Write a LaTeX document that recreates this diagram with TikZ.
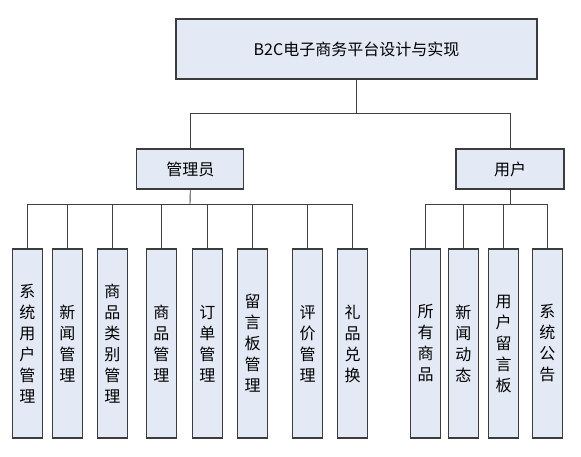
\documentclass[tikz,border=0pt]{standalone}
\usepackage{fontspec}
\newfontfamily\cjk{Noto Sans CJK SC}
\definecolor{boxfill}{RGB}{227,234,245}
\definecolor{boxline}{RGB}{60,60,60}
\begin{document}
\begin{tikzpicture}[x=1pt,y=-1pt,
  box/.style={draw=boxline,fill=boxfill,line width=1.1pt,inner sep=0pt,font=\cjk\fontsize{16}{21}\selectfont,align=center},
  leaf/.style={box,minimum width=30pt,minimum height=189pt},
  conn/.style={draw=black!75,line width=0.9pt}]
\useasboundingbox (0,0) rectangle (581,456);
\node[box,minimum width=361pt,minimum height=60pt] (top) at (356.5,49) {B2C电子商务平台设计与实现};
\node[box,minimum width=107pt,minimum height=40pt] (admin) at (190.3,169) {管理员};
\node[box,minimum width=108pt,minimum height=40pt] (user) at (510,169) {用户};
\coordinate (mid) at (356.5,113);
\coordinate (abus) at (190,204);
\coordinate (ubus) at (510,204);
\node[leaf] (l1) at (27.5,343.5) {系\\统\\用\\户\\管\\理};
\node[leaf] (l2) at (67.3,343.5) {新\\闻\\管\\理};
\node[leaf] (l3) at (112.3,343.5) {商\\品\\类\\别\\管\\理};
\node[leaf] (l4) at (161.3,343.5) {商\\品\\管\\理};
\node[leaf] (l5) at (207.3,343.5) {订\\单\\管\\理};
\node[leaf] (l6) at (252.5,343.5) {留\\言\\板\\管\\理};
\node[leaf] (l7) at (307.5,343.5) {评\\价\\管\\理};
\node[leaf] (l8) at (352.5,343.5) {礼\\品\\兑\\换};
\node[leaf] (u1) at (425.7,343.5) {所\\有\\商\\品};
\node[leaf] (u2) at (463.3,343.5) {新\\闻\\动\\态};
\node[leaf] (u3) at (503.7,343.5) {用\\户\\留\\言\\板};
\node[leaf] (u4) at (547.3,343.5) {系\\统\\公\\告};
\draw[conn] (top.south) -- (mid);
\draw[conn] (mid) -| (admin.north);
\draw[conn] (mid) -| (user.north);
\draw[conn] (admin.south) -- (abus);
\draw[conn] (user.south) -- (ubus);
\foreach \n in {l1,l2,l3,l4,l5,l6,l7,l8}{\draw[conn] (abus) -| (\n.north);}
\foreach \n in {u1,u2,u3,u4}{\draw[conn] (ubus) -| (\n.north);}
\end{tikzpicture}
\end{document}
